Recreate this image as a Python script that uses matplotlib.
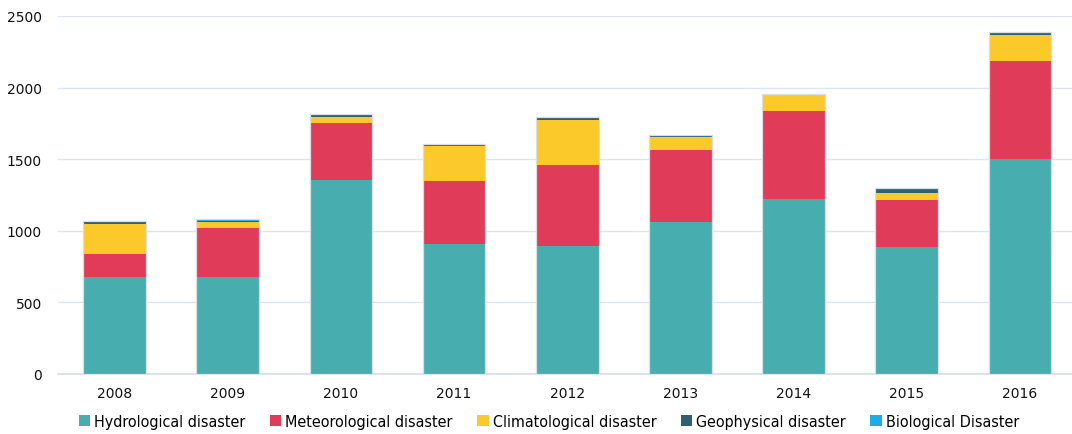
import matplotlib
matplotlib.use("Agg")
import matplotlib.pyplot as plt
from matplotlib.patches import Patch
import numpy as np

years = ["2008", "2009", "2010", "2011", "2012", "2013", "2014", "2015", "2016"]
hydrological   = [677, 677, 1354, 907, 897, 1062, 1219, 884, 1498]
meteorological = [162, 342, 400, 440, 564, 501, 615, 328, 689]
climatological = [205, 42, 44, 244, 314, 95, 113, 51, 177]
geophysical    = [20, 10, 21, 14, 23, 13, 9, 35, 23]
biological     = [5, 12, 0, 0, 0, 0, 2, 0, 0]

series = [
    ("Hydrological disaster", hydrological, "#47adaf"),
    ("Meteorological disaster", meteorological, "#e03b59"),
    ("Climatological disaster", climatological, "#fcc92b"),
    ("Geophysical disaster", geophysical, "#2d6073"),
    ("Biological Disaster", biological, "#1aade8"),
]

plt.rcParams["font.family"] = ["DejaVu Sans"]

W, H = 1072, 435
fig = plt.figure(figsize=(W / 100, H / 100), dpi=100)
ax = fig.add_axes([58 / W, 60 / H, (W - 58) / W, (375 - 17) / H])

x = np.arange(len(years))
bottom = np.zeros(len(years))
for name, vals, col in series:
    vals = np.array(vals, dtype=float)
    ax.bar(x, vals, bottom=bottom, width=0.555, color=col,
           edgecolor="none", linewidth=0, zorder=3, label=name)
    bottom += vals
# faint outline around each full stack
ax.bar(x, bottom, width=0.555, facecolor="none", edgecolor="#d9dee3",
       linewidth=0.9, zorder=4)

ax.set_xlim(-0.5, 8.46)
ax.set_ylim(0, 2500)
ax.set_yticks([0, 500, 1000, 1500, 2000, 2500])
ax.set_xticks(x)
ax.set_xticklabels(years)
ax.grid(True, axis="y", color="#dce6f2", lw=1.0, zorder=0)
for s in ["top", "right", "left"]:
    ax.spines[s].set_visible(False)
ax.spines["bottom"].set_color("#d5deea")
ax.spines["bottom"].set_linewidth(1.2)
ax.tick_params(axis="both", length=0, labelsize=10, colors="#111111")
ax.tick_params(axis="y", pad=11.5)
ax.tick_params(axis="x", pad=9)

handles = [Patch(facecolor=c, edgecolor="none") for _, _, c in series]
labels = [n for n, _, _ in series]
fig.legend(handles, labels, loc="lower center", ncol=5, frameon=False,
           bbox_to_anchor=(0.512, -0.022), handlelength=0.7, handleheight=0.7,
           handletextpad=0.25, columnspacing=1.55,
           prop={"size": 11.5, "stretch": "condensed"})

fig.savefig("out.png", dpi=100, facecolor="white")
